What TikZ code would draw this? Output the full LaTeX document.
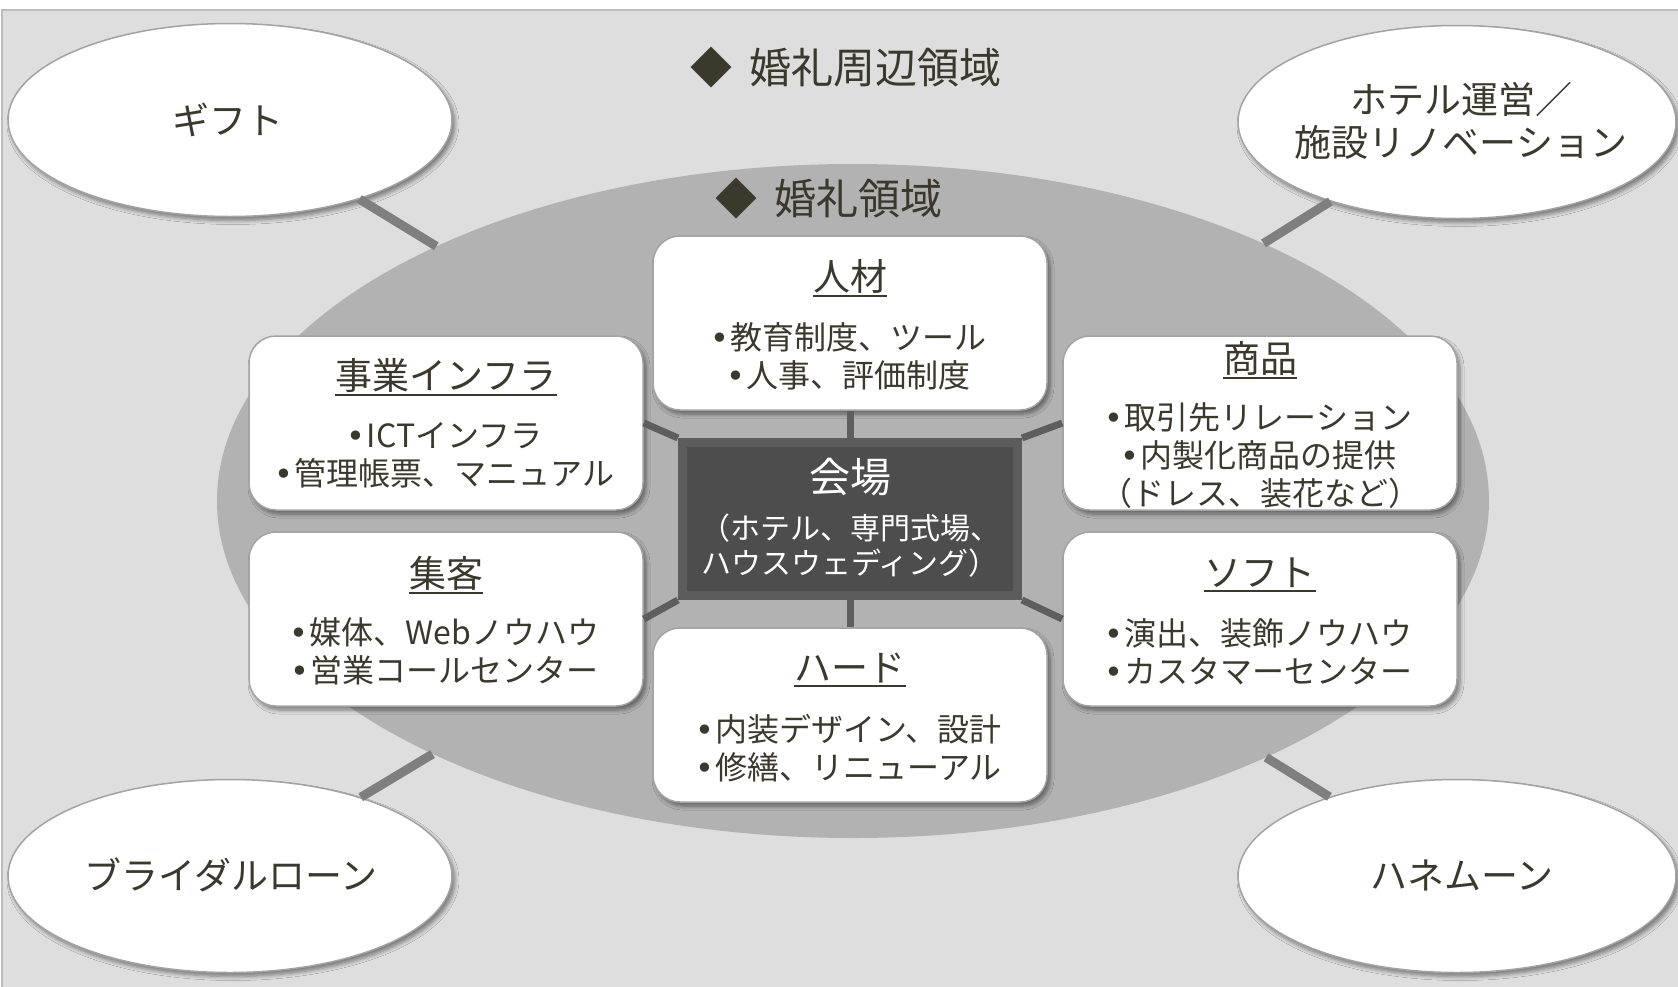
\documentclass[tikz,border=0pt]{standalone}
\usepackage{fontspec}
\setmainfont{Noto Sans CJK JP}
\newfontfamily\dejavu{DejaVu Sans}
\usetikzlibrary{shapes.geometric,shadows.blur}
\definecolor{bg}{HTML}{DEDEDE}
\definecolor{bgborder}{HTML}{BDBDBD}
\definecolor{bigell}{HTML}{B2B2B2}
\definecolor{txt}{HTML}{3B382C}
\definecolor{outline}{HTML}{A3A3A3}
\definecolor{outcon}{HTML}{7F7F7F}
\definecolor{incon}{HTML}{5E5E5E}
\definecolor{cfill}{HTML}{4D4D4D}
\definecolor{cframe}{HTML}{5C5C5C}
\newcommand\bul{\makebox[17pt][l]{\hspace{-3pt}{\dejavu •}}}
\begin{document}
\begin{tikzpicture}[x=1pt,y=-1pt,
  softshadow/.style={blur shadow={shadow xshift=3pt,shadow yshift=-4pt,shadow blur radius=4pt,shadow blur steps=6,shadow opacity=45}},
  outer/.style={ellipse,draw=outline,line width=1.5pt,fill=white,minimum height=193pt,inner sep=0pt,softshadow},
  ellt/.style={text=txt,font=\fontsize{37}{42.5}\selectfont,align=center,inner sep=0pt},
  hd/.style={text=txt,font=\fontsize{42}{50}\selectfont,inner sep=0pt},
  box/.style={rounded corners=27pt,draw=outline,line width=1.5pt,fill=white,minimum width=394pt,minimum height=174pt,inner sep=0pt,softshadow},
  cbox/.style={draw=cframe,line width=9pt,fill=cfill,minimum width=335pt,minimum height=153pt,inner sep=0pt},
  ttl/.style={text=txt,font=\fontsize{37}{44}\selectfont,inner sep=0pt,
    append after command={([yshift=-3pt]\tikzlastnode.south west) edge[draw=txt,line width=2pt] ([yshift=-3pt]\tikzlastnode.south east)}},
  bl/.style={text=txt,font=\fontsize{32}{38}\selectfont,inner sep=0pt,align=center},
  oc/.style={draw=outcon,line width=9pt},
  ic/.style={draw=incon,line width=7pt}
]
\useasboundingbox (0,0) rectangle (1678,986);
\fill[white] (0,0) rectangle (1678,986);
\draw[fill=bg,draw=bgborder,line width=1.5pt] (2,10) rectangle (1690,1000);

% regions
\node[ellipse,fill=bigell,minimum width=1272pt,minimum height=674pt,inner sep=0pt] (big) at (853,501) {};
\node[outer,minimum width=444pt] (gift) at (230,120) {};
\node[outer,minimum width=438pt] (hotel) at (1457,122) {};
\node[outer,minimum width=444pt] (loan) at (230,876) {};
\node[outer,minimum width=438pt] (moon) at (1457,876) {};
\node[ellt] (giftT) at (228,120) {ギフト};
\node[ellt] (hotelT) at (1461,121) {ホテル運営／\\施設リノベーション};
\node[ellt] (loanT) at (231,875) {ブライダルローン};
\node[ellt] (moonT) at (1462,875) {ハネムーン};
\node[hd] (t1) at (846,68) {◆\hspace{17pt}婚礼周辺領域};
\node[hd] (t2) at (829,199) {◆\hspace{18pt}婚礼領域};

% outer connectors (between the borders)
\draw[oc] (gift) -- (big);
\draw[oc] (hotel) -- (big);
\draw[oc] (loan) -- (big);
\draw[oc] (moon) -- (big);

% boxes
\node[box] (jinzai) at (850,323) {};
\node[box] (infra) at (446,423) {};
\node[box] (shohin) at (1260,423) {};
\node[box] (shukyaku) at (446,619) {};
\node[box] (soft) at (1260,619) {};
\node[box] (hard) at (850,715) {};
\node[cbox] (venue) at (850,519) {};

% inner connectors
\draw[ic] (venue.north west) -- (infra.east);
\draw[ic] (venue.north) -- (jinzai.south);
\draw[ic] (venue.north east) -- (shohin.west);
\draw[ic] (venue.south west) -- (shukyaku.east);
\draw[ic] (venue.south) -- (hard.north);
\draw[ic] (venue.south east) -- (soft.west);

% texts
\node[ttl] (jinzaiT) at (850,276) {人材};
\node[bl] (jinzaiB) at (850,356) {\bul 教育制度、ツール\\\bul 人事、評価制度};
\node[ttl] (infraT) at (446,375) {事業インフラ};
\node[bl] (infraB) at (446,455) {\bul ICTインフラ\\\bul 管理帳票、マニュアル};
\node[ttl] (shohinT) at (1260,358) {商品};
\node[bl] (shohinB) at (1260,455.5) {\bul 取引先リレーション\\\bul 内製化商品の提供\\（ドレス、装花など）};
\node[ttl] (shukyakuT) at (446,573) {集客};
\node[bl] (shukyakuB) at (446,651.5) {\bul 媒体、Webノウハウ\\\bul 営業コールセンター};
\node[ttl] (softT) at (1260,573) {ソフト};
\node[bl] (softB) at (1260,651.5) {\bul 演出、装飾ノウハウ\\\bul カスタマーセンター};
\node[ttl] (hardT) at (850,668) {ハード};
\node[bl] (hardB) at (850,748.5) {\bul 内装デザイン、設計\\\bul 修繕、リニューアル};

\node[text=white,font=\fontsize{41}{48}\selectfont,inner sep=0pt] (venueT) at (850,477) {会場};
\node[text=white,font=\fontsize{30}{35}\selectfont,inner sep=0pt,align=center] (venueB) at (850,545.5) {（ホテル、専門式場、\\ハウスウェディング）};
\end{tikzpicture}
\end{document}
